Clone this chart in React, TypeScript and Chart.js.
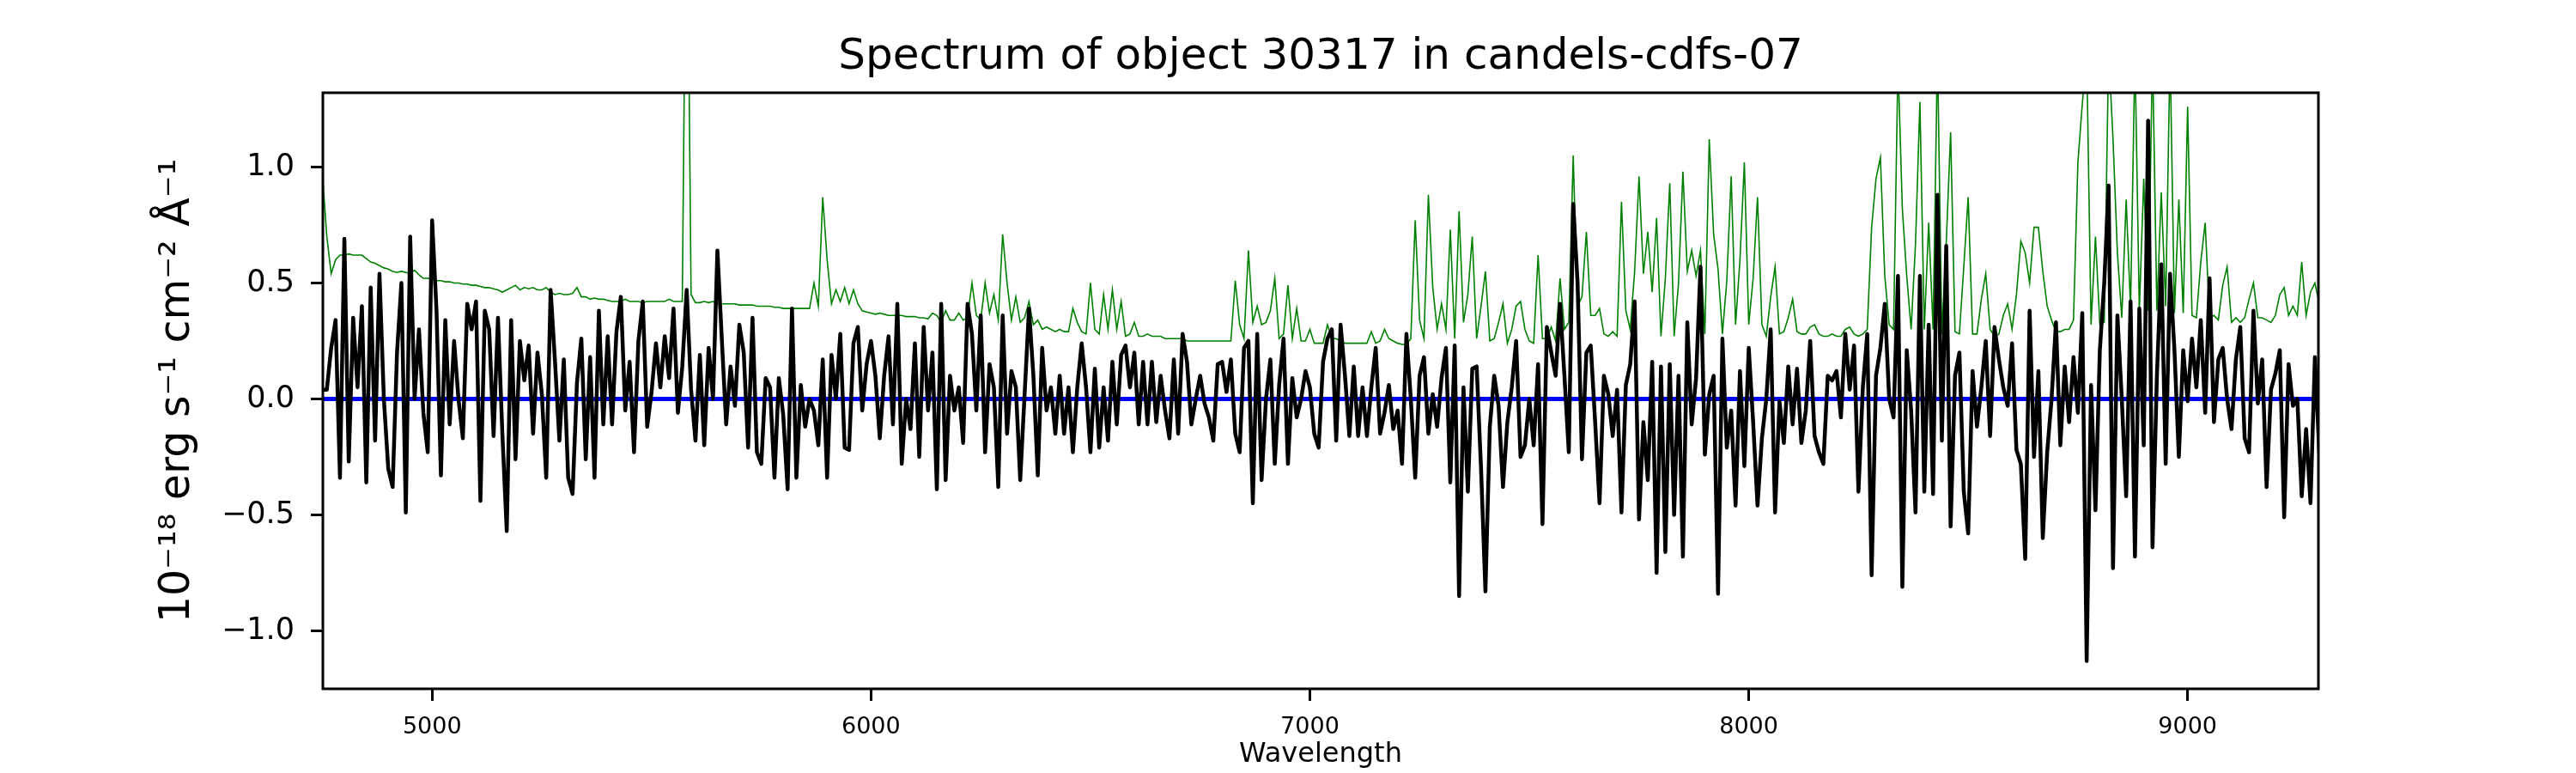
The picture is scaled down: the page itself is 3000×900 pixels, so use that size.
import { useEffect, useRef } from "react";
import { Chart, registerables, type Plugin } from "chart.js";

Chart.register(...registerables);

// spectrum is sampled on a regular wavelength grid (Angstrom)
const WAVE_START = 4750;
const WAVE_STEP = 10;

// black: extracted 1D flux, one value per 10 A
const observedFlux: number[] = [
  // 4750 - 5360
  0.04, 0.04, 0.22, 0.34, -0.34, 0.69, -0.27, 0.35, 0.05, 0.40,
  -0.36, 0.48, -0.18, 0.54, 0.0, -0.30, -0.38, 0.2, 0.50, -0.49,
  0.70, 0.0, 0.30, -0.06, -0.23, 0.77, 0.38, -0.33, 0.34, -0.11,
  0.25, 0.0, -0.17, 0.41, 0.30, 0.42, -0.44, 0.38, 0.30, -0.16,
  0.35, -0.15, -0.57, 0.34, -0.26, 0.25, 0.08, 0.23, -0.15, 0.2,
  0.02, -0.34, 0.47, 0.16, -0.18, 0.17, -0.34, -0.41, 0.07, 0.26,
  -0.26, 0.18,
  // 5370 - 5960
  -0.34, 0.38, -0.11, 0.27, -0.11, 0.29, 0.44, -0.05, 0.16, -0.23,
  0.25, 0.42, -0.12, 0.03, 0.24, 0.05, 0.27, 0.09, 0.39, -0.06,
  0.14, 0.47, 0.04, -0.18, 0.19, -0.2, 0.22, 0.0, 0.64, 0.26,
  -0.11, 0.14, -0.03, 0.32, 0.2, -0.21, 0.35, -0.23, -0.28, 0.09,
  0.05, -0.34, 0.09, -0.07, -0.39, 0.39, -0.34, 0.06, -0.12, 0.0,
  -0.05, -0.2, 0.17, -0.34, 0.19, 0.0, 0.28, -0.21, -0.22, 0.24,
  // 5970 - 6570
  0.31, -0.05, 0.15, 0.25, 0.1, -0.17, 0.1, 0.27, -0.11, 0.41,
  -0.28, 0.0, -0.13, 0.24, -0.25, 0.31, -0.05, 0.2, -0.39, 0.41,
  -0.35, 0.1, -0.05, 0.05, -0.19, 0.41, 0.28, -0.05, 0.36, -0.23,
  0.15, 0.05, -0.38, 0.36, -0.15, 0.12, 0.05, -0.35, 0.02, 0.39,
  0.1, -0.33, 0.22, -0.05, 0.05, -0.15, 0.1, -0.15, 0.05, -0.23,
  0.05, 0.24, 0.05, -0.23, 0.13, -0.21, 0.05, -0.18, 0.16, -0.11,
  0.19,
  // 6580 - 7180
  0.23, 0.05, 0.2, -0.11, 0.16, -0.11, 0.16, -0.1, 0.1, -0.05,
  -0.17, 0.17, -0.15, 0.28, 0.16, -0.11, 0.0, 0.1, -0.02, -0.08,
  -0.18, 0.15, 0.16, 0.03, 0.17, -0.15, -0.23, 0.22, 0.25, -0.45,
  0.28, -0.35, 0.0, 0.17, -0.28, 0.06, 0.26, -0.28, 0.09, -0.08,
  0.0, 0.12, 0.05, -0.15, -0.21, 0.16, 0.26, 0.30, -0.18, 0.32,
  0.1, -0.16, 0.14, -0.16, 0.05, -0.16, 0.05, 0.22, -0.15, -0.06,
  0.06,
  // 7190 - 7790
  -0.13, -0.05, -0.28, 0.28, 0.0, -0.34, 0.1, 0.18, -0.15, 0.02,
  -0.12, 0.09, 0.22, -0.36, 0.23, -0.85, 0.05, -0.4, 0.13, 0.14,
  -0.3, -0.83, -0.12, 0.1, -0.03, -0.38, -0.1, 0.05, 0.25, -0.25,
  -0.2, 0.0, -0.2, 0.15, -0.54, 0.31, 0.2, 0.1, 0.41, 0.1,
  -0.23, 0.84, 0.5, -0.26, 0.2, 0.23, -0.1, -0.45, 0.1, 0.02,
  -0.16, 0.04, -0.49, 0.06, 0.15, 0.42, -0.52, -0.1, -0.35, 0.16,
  -0.75,
  // 7800 - 8390
  0.14, -0.66, 0.15, -0.5, 0.1, -0.68, 0.33, -0.11, 0.09, 0.57,
  -0.24, 0.02, 0.1, -0.84, 0.26, -0.21, -0.05, -0.46, 0.12, -0.29,
  0.22, -0.1, -0.46, -0.17, 0.0, 0.3, -0.49, -0.01, -0.19, 0.14,
  -0.11, 0.13, -0.19, -0.05, 0.25, -0.16, -0.23, -0.28, 0.1, 0.08,
  0.12, -0.08, 0.28, 0.04, 0.23, -0.40, 0.05, 0.28, -0.76, 0.1,
  0.22, 0.41, 0.0, -0.08, 0.53, -0.81, 0.21, -0.05, -0.49, 0.53,
  // 8400 - 9000
  -0.4, 0.32, -0.41, 0.88, -0.18, 0.66, -0.55, 0.1, 0.2, -0.4,
  -0.58, 0.12, -0.12, 0.05, 0.25, -0.16, 0.31, 0.17, 0.05, -0.03,
  0.24, -0.22, -0.28, -0.69, 0.38, -0.25, 0.12, -0.6, -0.23, 0.0,
  0.33, -0.2, 0.14, -0.1, 0.18, -0.06, 0.37, -1.13, 0.06, -0.48,
  0.21, 0.5, 0.92, -0.73, 0.36, 0.0, -0.42, 0.42, -0.68, 0.39,
  -0.2, 1.2, -0.64, 0.1, 0.58, -0.28, 0.54, 0.21, -0.25, 0.21,
  -0.01,
  // 9010 - 9300
  0.26, 0.05, 0.34, -0.06, 0.52, -0.1, 0.17, 0.22, 0.0, -0.13,
  0.17, 0.31, -0.17, -0.23, 0.38, -0.02, 0.17, -0.38, 0.04, 0.11,
  0.21, -0.51, 0.15, -0.03, 0.0, -0.42, -0.13, -0.45, 0.18, -0.23,
];

// green: contamination / sky level, same grid
const contamFlux: number[] = [
  // 4750 - 5360
  0.97, 0.7, 0.54, 0.6, 0.62, 0.62, 0.625, 0.62, 0.62, 0.62,
  0.605, 0.59, 0.585, 0.575, 0.565, 0.56, 0.55, 0.545, 0.55, 0.545,
  0.54, 0.555, 0.535, 0.52, 0.52, 0.515, 0.51, 0.51, 0.505, 0.505,
  0.5, 0.5, 0.495, 0.495, 0.49, 0.49, 0.485, 0.48, 0.48, 0.475,
  0.47, 0.46, 0.47, 0.48, 0.49, 0.47, 0.48, 0.475, 0.48, 0.47,
  0.47, 0.48, 0.46, 0.45, 0.455, 0.45, 0.45, 0.455, 0.48, 0.44,
  0.44, 0.43,
  // 5370 - 5960
  0.435, 0.43, 0.43, 0.425, 0.42, 0.42, 0.42, 0.43, 0.42, 0.42,
  0.42, 0.415, 0.42, 0.42, 0.42, 0.42, 0.42, 0.43, 0.42, 0.42,
  0.42, 2.5, 0.45, 0.415, 0.415, 0.42, 0.415, 0.42, 0.41, 0.41,
  0.41, 0.41, 0.41, 0.405, 0.405, 0.405, 0.405, 0.40, 0.40, 0.40,
  0.40, 0.395, 0.395, 0.39, 0.39, 0.39, 0.39, 0.39, 0.39, 0.39,
  0.5, 0.40, 0.87, 0.6, 0.41, 0.47, 0.42, 0.48, 0.41, 0.47,
  // 5970 - 6570
  0.41, 0.38, 0.375, 0.37, 0.365, 0.37, 0.365, 0.36, 0.36, 0.36,
  0.36, 0.355, 0.355, 0.355, 0.35, 0.35, 0.345, 0.37, 0.36, 0.33,
  0.38, 0.34, 0.34, 0.37, 0.34, 0.35, 0.5, 0.36, 0.34, 0.5,
  0.37, 0.45, 0.34, 0.71, 0.5, 0.34, 0.44, 0.33, 0.35, 0.42,
  0.32, 0.34, 0.3, 0.31, 0.30, 0.29, 0.30, 0.29, 0.29, 0.39,
  0.33, 0.29, 0.28, 0.5, 0.3, 0.28, 0.45, 0.3, 0.47, 0.3,
  0.42,
  // 6580 - 7180
  0.27, 0.28, 0.33, 0.27, 0.27, 0.28, 0.27, 0.27, 0.27, 0.26,
  0.26, 0.26, 0.26, 0.26, 0.25, 0.25, 0.25, 0.25, 0.25, 0.25,
  0.25, 0.25, 0.25, 0.25, 0.25, 0.51, 0.32, 0.26, 0.64, 0.33,
  0.40, 0.32, 0.33, 0.38, 0.52, 0.26, 0.28, 0.49, 0.26, 0.39,
  0.25, 0.25, 0.3, 0.24, 0.24, 0.24, 0.32, 0.26, 0.26, 0.25,
  0.24, 0.24, 0.24, 0.24, 0.24, 0.24, 0.29, 0.24, 0.25, 0.30,
  0.26,
  // 7190 - 7790
  0.25, 0.24, 0.235, 0.235, 0.26, 0.77, 0.34, 0.26, 0.88, 0.48,
  0.3, 0.41, 0.3, 0.73, 0.26, 0.81, 0.33, 0.45, 0.70, 0.26,
  0.40, 0.55, 0.25, 0.26, 0.33, 0.41, 0.24, 0.30, 0.40, 0.42,
  0.3, 0.25, 0.24, 0.62, 0.26, 0.26, 0.31, 0.25, 0.52, 0.3,
  0.33, 1.05, 0.4, 0.44, 0.72, 0.36, 0.36, 0.39, 0.28, 0.27,
  0.29, 0.27, 0.85, 0.38, 0.3, 0.55, 0.96, 0.54, 0.72, 0.46,
  0.78,
  // 7800 - 8390
  0.27, 0.52, 0.93, 0.27, 0.5, 0.98, 0.55, 0.64, 0.53, 0.64,
  0.28, 1.12, 0.71, 0.56, 0.28, 0.51, 0.96, 0.32, 0.60, 1.02,
  0.32, 0.52, 0.87, 0.32, 0.27, 0.44, 0.57, 0.28, 0.29, 0.35,
  0.43, 0.29, 0.28, 0.28, 0.31, 0.32, 0.28, 0.27, 0.27, 0.28,
  0.27, 0.27, 0.3, 0.31, 0.28, 0.27, 0.28, 0.3, 0.74, 0.95,
  1.04, 0.53, 0.32, 0.3, 1.45, 0.82, 0.53, 0.3, 0.67, 1.28,
  // 8400 - 9000
  0.3, 0.76, 0.3, 1.5, 0.28, 0.67, 1.15, 0.29, 0.28, 0.57,
  0.87, 0.28, 0.28, 0.43, 0.54, 0.3, 0.27, 0.28, 0.36, 0.41,
  0.3, 0.45, 0.68, 0.63, 0.5, 0.74, 0.74, 0.55, 0.4, 0.34,
  0.29, 0.29, 0.3, 0.3, 0.34, 1.02, 1.27, 1.5, 0.32, 0.70,
  0.32, 0.33, 1.5, 1.12, 0.63, 0.35, 0.86, 0.39, 1.5, 0.38,
  0.95, 0.38, 1.5, 0.38, 0.89, 0.4, 1.5, 0.37, 0.86, 0.37,
  1.26,
  // 9010 - 9300
  0.36, 0.35, 0.59, 0.76, 0.35, 0.36, 0.34, 0.49, 0.57, 0.33,
  0.35, 0.33, 0.35, 0.43, 0.50, 0.35, 0.35, 0.34, 0.33, 0.36,
  0.45, 0.48, 0.36, 0.40, 0.36, 0.59, 0.36, 0.46, 0.5, 0.41,
];

// blue: model, flat at zero
const modelWave = [4750, 9300];
const modelFlux = [0, 0];

const xTicks = [5000, 6000, 7000, 8000, 9000];
const yTicks = [-1.0, -0.5, 0.0, 0.5, 1.0];

const FONT = "'DejaVu Sans', sans-serif";

// matplotlib style box around the axes
const framePlugin: Plugin<"line"> = {
  id: "frame",
  afterDatasetsDraw(chart) {
    const { ctx, chartArea: a } = chart;
    ctx.save();
    ctx.strokeStyle = "#000";
    ctx.lineWidth = 3;
    ctx.strokeRect(a.left, a.top, a.right - a.left, a.bottom - a.top);
    ctx.restore();
  },
};

function SpectrumChart() {
  const canvasRef = useRef<HTMLCanvasElement>(null);
  const chartRef = useRef<Chart<"line"> | null>(null);

  useEffect(() => {
    document.body.style.margin = "0";
    document.body.style.overflow = "hidden";
    if (!canvasRef.current) return;
    const ctx = canvasRef.current.getContext("2d");
    if (!ctx) return;

    const toPoints = (ys: number[]) =>
      ys.map((y, i) => ({ x: WAVE_START + i * WAVE_STEP, y }));

    chartRef.current = new Chart(ctx, {
      type: "line",
      data: {
        datasets: [
          {
            data: toPoints(observedFlux),
            borderColor: "#000000",
            borderWidth: 4.5,
            pointRadius: 0,
            tension: 0,
            borderJoinStyle: "round",
            clip: 0,
            order: 0,
          },
          {
            data: modelWave.map((x, i) => ({ x, y: modelFlux[i] })),
            borderColor: "#0000ff",
            borderWidth: 5,
            pointRadius: 0,
            clip: 0,
            order: 1,
          },
          {
            data: toPoints(contamFlux),
            borderColor: "#008000",
            borderWidth: 1.6,
            pointRadius: 0,
            tension: 0,
            clip: 0,
            order: 2,
          },
        ],
      },
      options: {
        animation: false,
        responsive: false,
        devicePixelRatio: 1,
        events: [],
        layout: { padding: { left: 0, right: 300, top: 0, bottom: 0 } },
        plugins: {
          legend: { display: false },
          tooltip: { enabled: false },
          title: {
            display: true,
            fullSize: false,
            text: "Spectrum of object 30317 in candels-cdfs-07",
            color: "#000",
            font: { family: FONT, size: 50, weight: "normal" },
            padding: { top: 37, bottom: 11 },
          },
        },
        scales: {
          x: {
            type: "linear",
            min: 4751,
            max: 9298,
            afterFit: (s) => {
              s.height = 98;
            },
            afterBuildTicks: (s) => {
              s.ticks = xTicks.map((v) => ({ value: v }));
            },
            border: { display: false },
            grid: {
              drawOnChartArea: false,
              drawTicks: true,
              tickLength: 14,
              lineWidth: 3,
              color: "#000",
            },
            ticks: {
              color: "#000",
              font: { family: FONT, size: 27 },
              padding: 15,
              maxRotation: 0,
              callback: (v) => String(v),
            },
            title: {
              display: true,
              text: "Wavelength",
              color: "#000",
              font: { family: FONT, size: 32 },
              padding: { top: 0, bottom: 2 },
            },
          },
          y: {
            type: "linear",
            min: -1.25,
            max: 1.32,
            afterFit: (s) => {
              s.width = 376;
            },
            afterBuildTicks: (s) => {
              s.ticks = yTicks.map((v) => ({ value: v }));
            },
            border: { display: false },
            grid: {
              drawOnChartArea: false,
              drawTicks: true,
              tickLength: 14,
              lineWidth: 3,
              color: "#000",
            },
            ticks: {
              color: "#000",
              font: { family: FONT, size: 35 },
              padding: 19,
              callback: (v) => {
                const n = Number(v);
                return (n < 0 ? "\u2212" : "") + Math.abs(n).toFixed(1);
              },
            },
            title: {
              display: true,
              text: "10\u207b\u00b9\u2078 erg s\u207b\u00b9 cm\u207b\u00b2 \u00c5\u207b\u00b9",
              color: "#000",
              font: { family: FONT, size: 49 },
              padding: { top: 178, bottom: 0 },
            },
          },
        },
      },
      plugins: [framePlugin],
    });

    return () => {
      chartRef.current?.destroy();
      chartRef.current = null;
    };
  }, []);

  return (
    <div style={{ width: 3000, height: 900, background: "#fff" }}>
      <canvas
        ref={canvasRef}
        width={3000}
        height={900}
        style={{ display: "block", width: 3000, height: 900 }}
      />
    </div>
  );
}

export default function App() {
  return <SpectrumChart />;
}
